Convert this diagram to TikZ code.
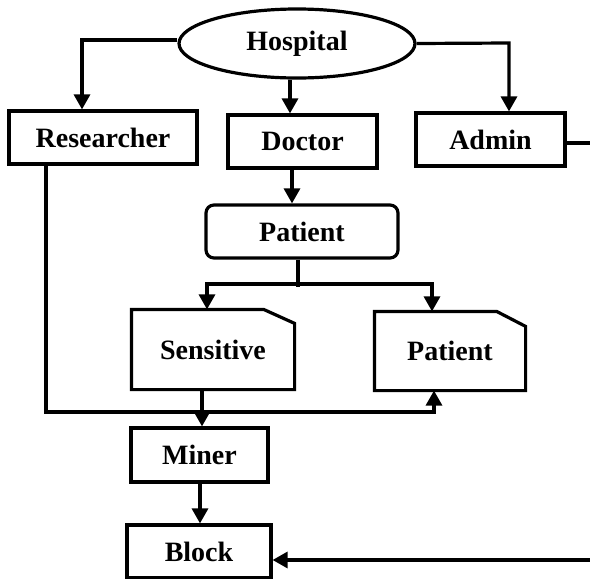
\documentclass[tikz,border=0pt]{standalone}
\usepackage{fontspec}
\setmainfont{Liberation Serif}
\usetikzlibrary{arrows.meta,shapes.geometric}
\begin{document}
\begin{tikzpicture}[x=1pt,y=-1pt,
  line width=3.2pt,
  every node/.style={inner sep=0pt,font=\fontsize{28}{31}\selectfont\bfseries},
  box/.style={draw,rectangle},
  rbox/.style={draw,rectangle,rounded corners=8pt},
  doc/.style={rectangle,draw=none},
  arr/.style={-{Triangle[length=15pt,width=16pt]}}]
\useasboundingbox (0,0) rectangle (590,579);
\node[draw,ellipse,minimum width=236pt,minimum height=69pt] (hosp) at (297,43.5) {Hospital};
\node[box,minimum width=188pt,minimum height=53pt] (res) at (103,137.5) {Researcher};
\node[box,minimum width=149pt,minimum height=53pt] (doc) at (302.5,141.5) {Doctor};
\node[box,minimum width=149pt,minimum height=53pt] (adm) at (490.5,139.5) {Admin};
\node[rbox,minimum width=192pt,minimum height=53pt] (pat) at (302,231.5) {Patient};
\node[doc,minimum width=160pt,minimum height=77pt] (sen) at (213,349.5) {Sensitive};
\node[doc,minimum width=148pt,minimum height=76pt] (pat2) at (450,351) {Patient};
\node[box,minimum width=137pt,minimum height=54pt] (min) at (199.5,455) {Miner};
\node[box,minimum width=144pt,minimum height=53pt] (blk) at (199,551.5) {Block};
% folded-corner outlines
\draw (sen.south west) -- (sen.north west) -- ([xshift=-31pt]sen.north east) -- ([yshift=-14pt]sen.north east) -- (sen.south east) -- cycle;
\draw (pat2.south west) -- (pat2.north west) -- ([xshift=-29pt]pat2.north east) -- ([yshift=-15pt]pat2.north east) -- (pat2.south east) -- cycle;
% helper coordinates
\coordinate (c1) at (82,40);
\coordinate (c2) at (290,0);
\coordinate (c3) at (509,43);
\coordinate (ae) at (590,143);
\coordinate (c4) at (292,0);
\coordinate (ps) at (298,287);
\coordinate (sl) at (207,284);
\coordinate (sr) at (432,284);
\coordinate (c5) at (202,0);
\coordinate (rb) at (46,412);
\coordinate (pb) at (434,412);
\coordinate (c6) at (200,0);
\coordinate (be) at (590,560);
% connectors
\draw[arr] (hosp.west |- c1) -- (c1) -- (c1 |- res.north);
\draw[arr] (hosp.south -| c2) -- (c2 |- doc.north);
\draw[arr] (hosp.east) -- (c3) -- (c3 |- adm.north);
\draw (ae -| adm.east) -- (ae);
\draw[arr] (doc.south -| c4) -- (c4 |- pat.north);
\draw (pat.south -| ps) -- (ps);
\draw[arr] (sr) -- (sl) -- (sl |- sen.north);
\draw[arr] (sl) -- (sr) -- (sr |- pat2.north);
\draw[arr] (sen.south -| c5) -- (c5 |- min.north);
\draw[arr] (res.south -| rb) -- (rb) -- (pb) -- (pb |- pat2.south);
\draw[arr] (min.south -| c6) -- (c6 |- blk.north);
\draw[arr] (be) -- (be -| blk.east);
\end{tikzpicture}
\end{document}
